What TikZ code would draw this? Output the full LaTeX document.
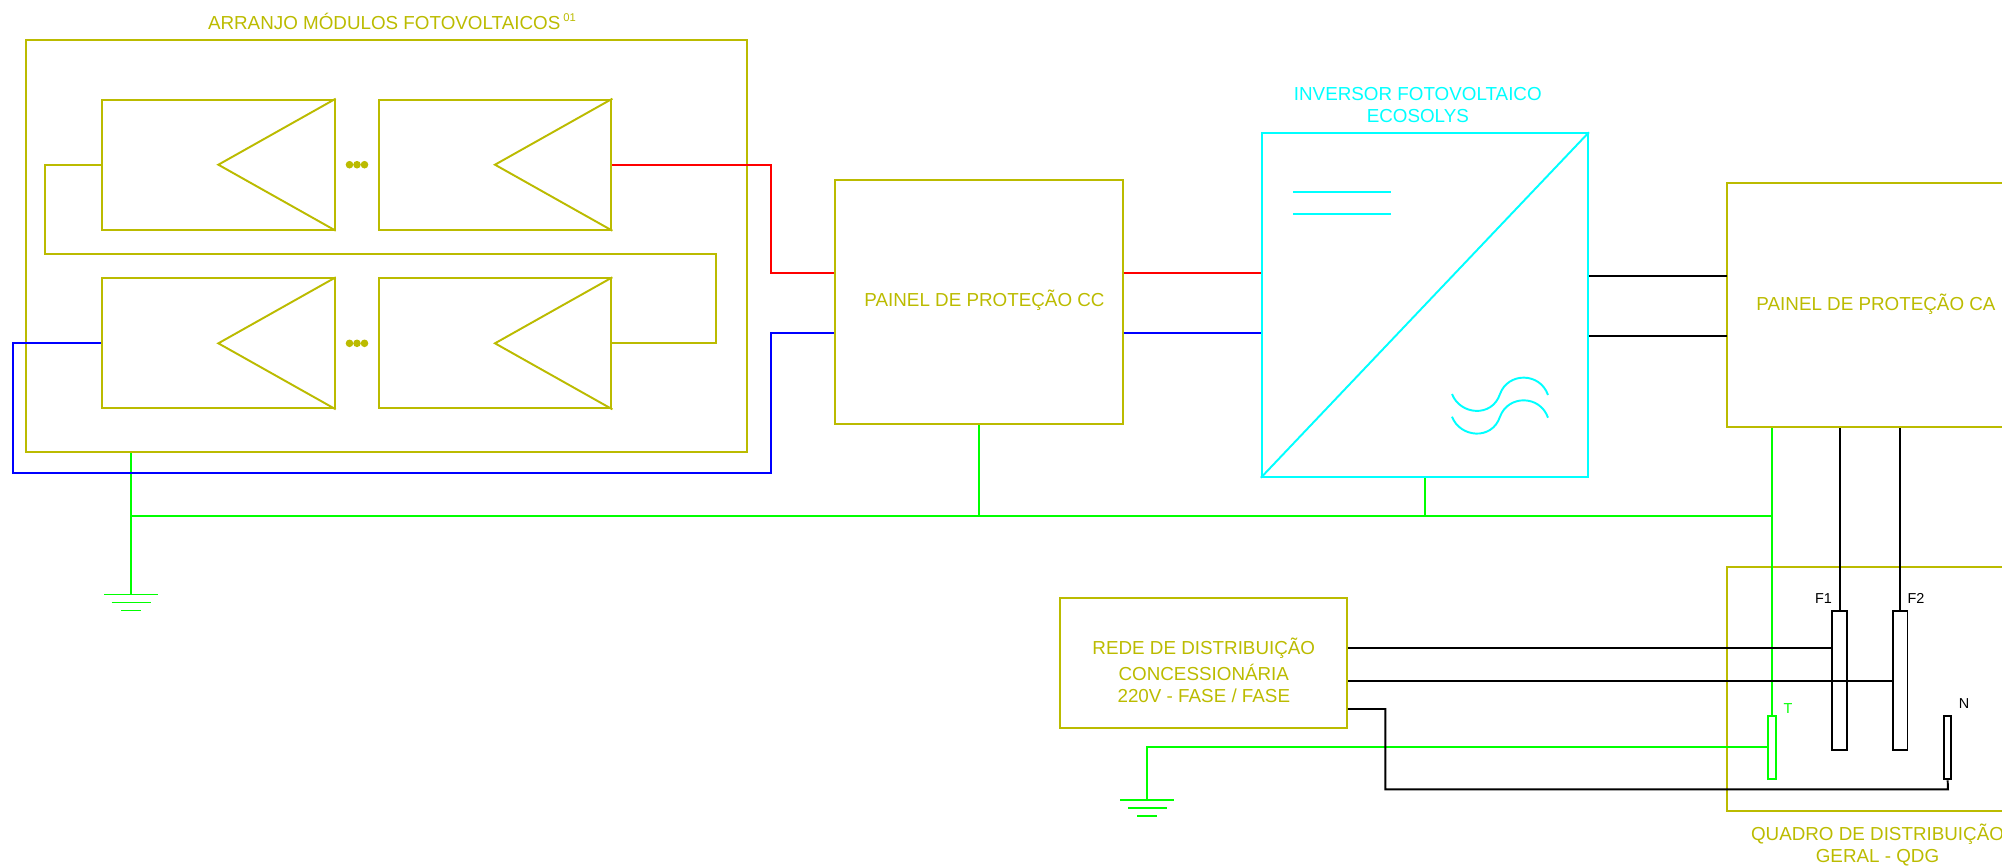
\documentclass[tikz,border=0pt]{standalone}
\usepackage{fontspec}
\setmainfont{Liberation Sans}
\begin{document}
\begin{tikzpicture}[x=0.01cm,y=-0.01cm]
	\tikzstyle{bloco} = [draw=oliva,shape=rectangle,line width=0.55pt,inner sep=0pt]
	\tikzstyle{modulo} = [bloco,minimum width=2.327cm,minimum height=1.3cm]
	\tikzstyle{fio} = [line width=0.55pt]
	\tikzstyle{fino} = [line width=0.5pt]
	\tikzstyle{rotulo} = [text=oliva,inner sep=0pt,align=center,font=\fontsize{5.35}{6.26}\selectfont]
	\tikzstyle{pequeno} = [inner sep=0pt,font=\fontsize{4.1}{5}\selectfont]

	\definecolor{oliva}{RGB}{187,187,0}
	\definecolor{ciano}{RGB}{0,255,255}
	\definecolor{verde}{RGB}{0,255,0}

	\clip (0,0) rectangle (2002,866);

	% NODES %
	\node[bloco,minimum width=7.199cm,minimum height=4.12cm] (arranjo) at (386.45,246) {};
	\node[modulo] (m1) at (218.35,164.7) {};
	\node[modulo] (m2) at (495,164.7) {};
	\node[modulo] (m3) at (218.35,343.3) {};
	\node[modulo] (m4) at (495,343.3) {};
	\node[bloco,minimum width=2.875cm,minimum height=2.44cm] (pcc) at (978.75,302) {};
	\node[bloco,draw=ciano,minimum width=3.26cm,minimum height=3.434cm] (inv) at (1424.9,305) {};
	\node[bloco,minimum width=3.326cm,minimum height=2.44cm] (pca) at (1893.7,305) {};
	\node[bloco,minimum width=3.33cm,minimum height=2.44cm] (qdg) at (1893.5,688.7) {};
	\node[bloco,minimum width=2.865cm,minimum height=1.3cm] (rede) at (1203.45,663.3) {};
	\node[bloco,draw=verde,minimum width=0.074cm,minimum height=0.633cm] (t) at (1771.9,747.65) {};
	\node[bloco,draw=black,minimum width=0.154cm,minimum height=1.39cm] (f1) at (1839.7,680.5) {};
	\node[bloco,draw=black,minimum width=0.147cm,minimum height=1.39cm] (f2) at (1900.15,680.5) {};
	\node[bloco,draw=black,minimum width=0.067cm,minimum height=0.633cm] (n) at (1947.65,747.65) {};

	\node[rotulo] (tarranjo) at (392,21.3) {ARRANJO MÓDULOS FOTOVOLTAICOS\,\raisebox{2.2pt}{\fontsize{3.2}{3.5}\selectfont 01}};
	\node[rotulo] (tpcc) at (984.5,300.5) {PAINEL DE PROTEÇÃO CC};
	\node[rotulo,text=ciano] (tinv) at (1417.8,105) {INVERSOR FOTOVOLTAICO\\ECOSOLYS};
	\node[rotulo] (tpca) at (1876,304.3) {PAINEL DE PROTEÇÃO CA};
	\node[rotulo] (trede) at (1203.8,670) {REDE DE DISTRIBUIÇÃO\\[1.14pt]CONCESSIONÁRIA\\220V - FASE / FASE};
	\node[rotulo] (tqdg) at (1877.5,844.6) {QUADRO DE DISTRIBUIÇÃO\\GERAL - QDG};

	\node[pequeno] (tf1) at (1823.4,598.7) {F1};
	\node[pequeno] (tf2) at (1916,598.7) {F2};
	\node[pequeno,text=verde] (tt) at (1788,708.7) {T};
	\node[pequeno] (tn) at (1964,703.7) {N};

	\coordinate (ylesq) at (45,254.3);
	\coordinate (yldir) at (716,254.3);
	\coordinate (vmdobra) at (771,272.7);
	\coordinate (azesq) at (12.8,473);
	\coordinate (azdir) at (771,473);
	\coordinate (azcc) at (771,333.3);
	\coordinate (barra) at (131,516);
	\coordinate (gnd1) at (131,594.5);
	\coordinate (gnd2) at (1147.4,799.7);
	\coordinate (gndfio) at (1147.4,747.3);
	\coordinate (ca1) at (1727.4,275.7);
	\coordinate (ca2) at (1727.4,336);
	\coordinate (rf1) at (1832,648);
	\coordinate (rf2) at (1892.8,680.7);
	\coordinate (neu1) at (1385.4,709);
	\coordinate (neu2) at (1948,789.3);

	% MODULES %
	\foreach \m in {m1,m2,m3,m4} {
		\draw[fio,oliva] (\m.north east) -- (\m.center) -- (\m.south east);
	}
	\foreach \y in {164.7,343.3} {
		\foreach \x in {349.5,357,364.5} {
			\fill[oliva] (\x,\y) circle (3.8);
		}
	}
	\draw[fio,oliva] (m1.west) -| (ylesq) -- (yldir) |- (m4.east);

	% INVERTER %
	\draw[fio,ciano] (inv.south west) -- (inv.north east);
	\draw[fio,ciano] (1293.4,192) -- (1390.6,192);
	\draw[fio,ciano] (1293.4,214.3) -- (1390.6,214.3);
	\foreach \d in {0,22.7} {
		\draw[fio,ciano] (1452,394+\d) .. controls (1460,415+\d) and (1492,418+\d) .. (1500,394+\d)
			.. controls (1508,372+\d) and (1540,372+\d) .. (1548,395+\d);
	}

	% EDGES %
	%terra
	\draw[fio,verde] (arranjo.south -| barra) -- (gnd1);
	\draw[fio,verde] (barra) -- (barra -| t.north);
	\draw[fio,verde] (pcc.south) -- (pcc.south |- barra);
	\draw[fio,verde] (inv.south) -- (inv.south |- barra);
	\draw[fio,verde] (t.north |- pca.south) -- (t.north);
	\draw[fio,verde] (gnd2) -- (gndfio) -- (gndfio -| t.west);
	\foreach \g in {gnd1,gnd2} {
		\draw[fio,verde] (\g) ++(-27,0) -- ++(54,0);
		\draw[fio,verde] (\g) ++(-19.5,8) -- ++(39,0);
		\draw[fio,verde] (\g) ++(-10,16) -- ++(20,0);
	}
	%cc
	\draw[fio,red] (m2.east) -| (vmdobra) -- (vmdobra -| pcc.west);
	\draw[fio,red] (vmdobra -| pcc.east) -- (vmdobra -| inv.west);
	\draw[fio,blue] (m3.west) -| (azesq) -- (azdir) -- (azcc) -- (azcc -| pcc.west);
	\draw[fio,blue] (azcc -| pcc.east) -- (azcc -| inv.west);
	%ca
	\draw[fio] (ca1 -| inv.east) -- (ca1);
	\draw[fio] (ca2 -| inv.east) -- (ca2);
	\draw[fino] (f1.north |- pca.south) -- (f1.north);
	\draw[fino] (f2.north |- pca.south) -- (f2.north);
	\draw[fio] (rf1 -| rede.east) -- (rf1);
	\draw[fio] (rf2 -| rede.east) -- (rf2);
	\draw[fio] (neu1 -| rede.east) -- (neu1) |- (neu2) -- (n.south);
\end{tikzpicture}
\end{document}
